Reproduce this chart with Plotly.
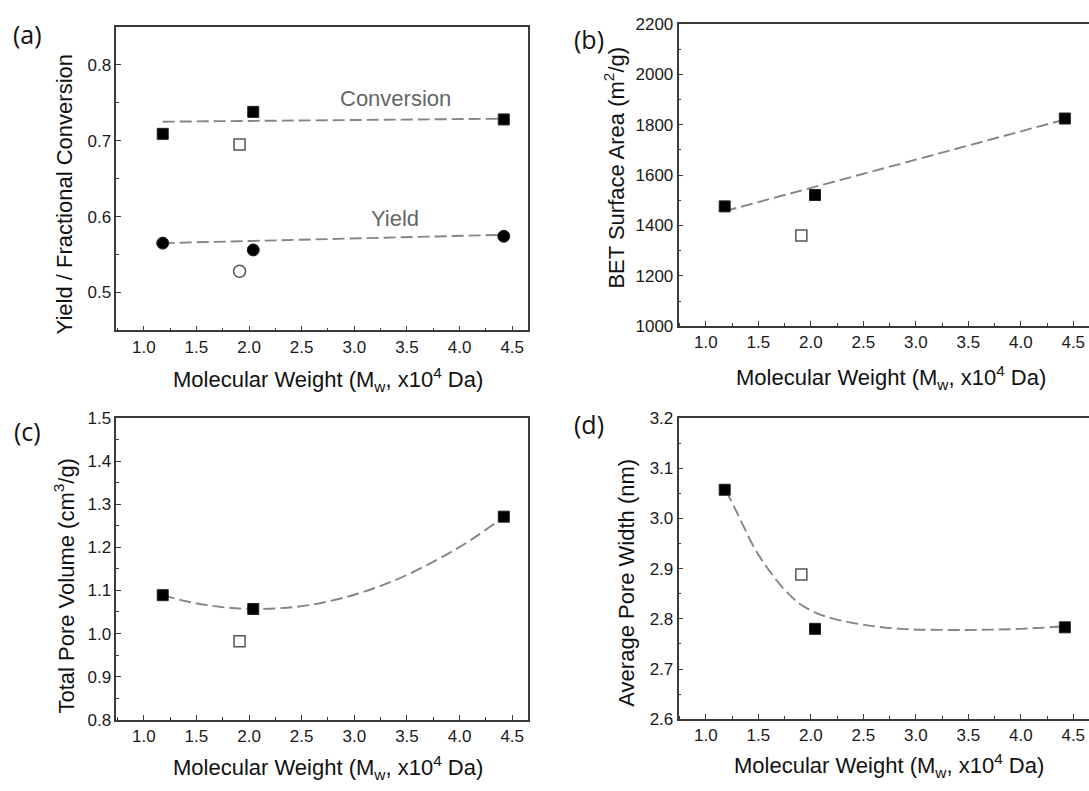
import plotly.graph_objects as go

# ---------------- data ----------------
mw_filled = [1.18, 2.04, 4.42]
mw_open = [1.91]

conversion = [0.709, 0.738, 0.728]
conversion_open = [0.695]
conv_fit_x = [1.18, 4.42]
conv_fit_y = [0.725, 0.729]

yield_vals = [0.565, 0.556, 0.574]
yield_open = [0.528]
yield_fit_x = [1.18, 4.42]
yield_fit_y = [0.565, 0.576]

bet_area = [1476, 1521, 1825]
bet_open = [1360]
bet_fit_x = [1.18, 4.42]
bet_fit_y = [1457, 1821]

pore_volume = [1.089, 1.057, 1.271]
pore_volume_open = [0.982]
pv_fit_x = [1.18, 1.4, 1.6, 1.8, 2.04, 2.3, 2.6, 3.0, 3.4, 3.8, 4.1, 4.42]
pv_fit_y = [1.089, 1.075, 1.066, 1.060, 1.057, 1.059, 1.067, 1.090, 1.125, 1.173, 1.216, 1.271]

pore_width = [3.057, 2.780, 2.783]
pore_width_open = [2.888]
pw_fit_x = [1.19, 1.27, 1.36, 1.46, 1.59, 1.75, 1.90, 2.06, 2.22, 2.54, 2.86, 3.2, 3.6, 4.0, 4.42]
pw_fit_y = [3.056, 3.023, 2.984, 2.942, 2.900, 2.858, 2.829, 2.811, 2.800, 2.787, 2.780, 2.778, 2.778, 2.780, 2.785]

x_title = "Molecular Weight (M<sub>w</sub>, x10<sup>4</sup> Da)"

# ---------------- styling ----------------
W, H = 1089, 791
FONT = "Liberation Sans, Arial, sans-serif"
AX = "#3a3a3a"
FIT = "#858585"
DASH = "12px,5px"

fig = go.Figure()


def filled(x, y, xa, ya, symbol="square", size=11):
    fig.add_trace(go.Scatter(x=x, y=y, mode="markers", xaxis=xa, yaxis=ya,
                             marker=dict(symbol=symbol, size=size, color="#000000",
                                         line=dict(color="#222222", width=1)),
                             showlegend=False, cliponaxis=False))


def hollow(x, y, xa, ya, symbol="square-open", size=11):
    fig.add_trace(go.Scatter(x=x, y=y, mode="markers", xaxis=xa, yaxis=ya,
                             marker=dict(symbol=symbol, size=size, color="#555555",
                                         line=dict(color="#555555", width=1.5)),
                             showlegend=False, cliponaxis=False))


def fit(x, y, xa, ya, shape="linear"):
    fig.add_trace(go.Scatter(x=x, y=y, mode="lines", xaxis=xa, yaxis=ya,
                             line=dict(color=FIT, width=1.9, dash=DASH, shape=shape),
                             showlegend=False, hoverinfo="skip"))


# (a)
fit(conv_fit_x, conv_fit_y, "x", "y")
fit(yield_fit_x, yield_fit_y, "x", "y")
filled(mw_filled, conversion, "x", "y")
hollow(mw_open, conversion_open, "x", "y")
filled(mw_filled, yield_vals, "x", "y", symbol="circle", size=12)
hollow(mw_open, yield_open, "x", "y", symbol="circle-open", size=12)
# (b)
fit(bet_fit_x, bet_fit_y, "x2", "y2")
filled(mw_filled, bet_area, "x2", "y2")
hollow(mw_open, bet_open, "x2", "y2")
# (c)
fit(pv_fit_x, pv_fit_y, "x3", "y3", shape="spline")
filled(mw_filled, pore_volume, "x3", "y3")
hollow(mw_open, pore_volume_open, "x3", "y3")
# (d)
fit(pw_fit_x, pw_fit_y, "x4", "y4", shape="spline")
filled(mw_filled, pore_width, "x4", "y4")
hollow(mw_open, pore_width_open, "x4", "y4")

TICKFONT = dict(family=FONT, size=17, color="#1a1a1a")


def xaxis(domain, anchor, rng):
    return dict(domain=domain, anchor=anchor, range=rng, dtick=0.5, tick0=0,
                tickformat=".1f", ticks="inside", ticklen=5, tickwidth=1.3,
                tickcolor=AX, showline=True, linecolor=AX, linewidth=1.6,
                mirror=True, showgrid=False, zeroline=False,
                minor=dict(dtick=0.25, tick0=0, ticks="inside", ticklen=3,
                           tickwidth=1.2, tickcolor=AX, showgrid=False),
                tickfont=TICKFONT, fixedrange=True)


def yaxis(domain, anchor, rng, dtick, mdtick, fmt, mirror=True):
    return dict(domain=domain, anchor=anchor, range=rng, dtick=dtick, tick0=0,
                tickformat=fmt, ticks="inside", ticklen=5, tickwidth=1.3,
                tickcolor=AX, showline=True, linecolor=AX, linewidth=1.6,
                mirror=mirror, showgrid=False, zeroline=False,
                minor=dict(dtick=mdtick, tick0=0, ticks="inside", ticklen=3,
                           tickwidth=1.2, tickcolor=AX, showgrid=False),
                tickfont=TICKFONT, fixedrange=True)


XL = [116.4 / W, 528 / W]
XR = [678.5 / W, 1.0]
XR_RANGE = [0.74, 4.65]

fig.update_layout(
    width=W, height=H,
    margin=dict(l=0, r=0, t=0, b=0),
    paper_bgcolor="white", plot_bgcolor="white",
    xaxis=xaxis(XL, "y", [0.74, 4.65]),
    yaxis=yaxis([1 - 329.3 / H, 1 - 18.3 / H], "x", [0.45, 0.85], 0.1, 0.05, ".1f"),
    xaxis2=xaxis(XR, "y2", XR_RANGE),
    yaxis2=yaxis([1 - 325 / H, 1 - 15.5 / H], "x2", [1000, 2200], 200, 100, "d", mirror=False),
    xaxis3=xaxis(XL, "y3", [0.74, 4.65]),
    yaxis3=yaxis([1 - 728.3 / H, 1 - 419 / H], "x3", [0.8, 1.5], 0.1, 0.05, ".1f"),
    xaxis4=xaxis(XR, "y4", XR_RANGE),
    yaxis4=yaxis([1 - 727.7 / H, 1 - 419 / H], "x4", [2.6, 3.2], 0.1, 0.05, ".1f", mirror=False),
    showlegend=False,
)


def ann(text, px, py, size=22, angle=0, family=FONT, color="#111111"):
    fig.add_annotation(text=text, x=px / W, y=1 - py / H, xref="paper", yref="paper",
                       xanchor="center", yanchor="middle", showarrow=False,
                       textangle=angle, font=dict(family=family, size=size, color=color))


# axis titles
ann(x_title, 327.8, 380)
ann("Yield / Fractional Conversion", 64, 190, angle=-90)
ann(x_title, 890.6, 378)
ann("BET Surface Area (m<sup>2</sup>/g)", 614, 162.5, angle=-90)
ann(x_title, 327.8, 777)
ann("Total Pore Volume (cm<sup>3</sup>/g)", 64, 590.8, angle=-90)
ann(x_title, 889, 775)
ann("Average Pore Width (nm)", 626.5, 588.3, angle=-90)

# panel labels
PL = "Open Sans, Noto Sans, sans-serif"
ann("(a)", 27, 26, size=25, family=PL)
ann("(b)", 589, 31, size=25, family=PL)
ann("(c)", 27, 432, size=25, family=PL)
ann("(d)", 589, 425, size=25, family=PL)

# in-plot labels (data coordinates)
fig.add_annotation(text="Conversion", x=3.39, y=0.755, xref="x", yref="y", showarrow=False,
                   font=dict(family=FONT, size=22, color="#666666"))
fig.add_annotation(text="Yield", x=3.39, y=0.5975, xref="x", yref="y", showarrow=False,
                   font=dict(family=FONT, size=22, color="#666666"))

fig.write_html("out.html", config={"displayModeBar": False},
               post_script="document.body.style.margin='0px';")
